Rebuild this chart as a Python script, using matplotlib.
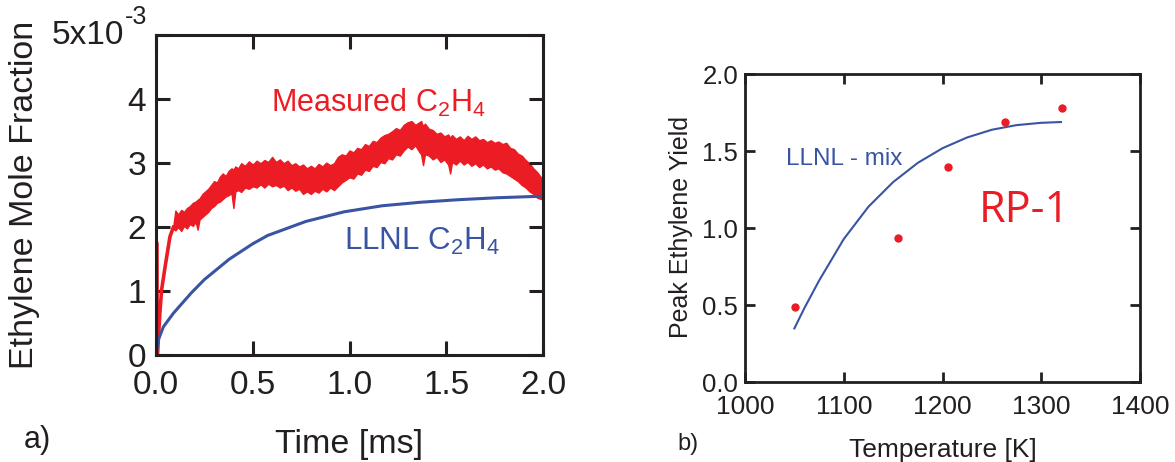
import matplotlib
matplotlib.use('Agg')
import matplotlib.pyplot as plt

# ---------------- Panel a) data (mole fraction, units of 1e-3) ----------------
llnl_t = [0.0, 0.012, 0.038, 0.089, 0.15, 0.182, 0.25, 0.379, 0.5, 0.577, 0.775,
          0.972, 1.17, 1.368, 1.565, 1.763, 2.0]
llnl_x = [0.0, 0.235, 0.44, 0.65, 0.86, 0.97, 1.18, 1.50, 1.74, 1.87, 2.09,
          2.24, 2.335, 2.39, 2.43, 2.46, 2.485]

meas_init_t = [0.0, 0.003, 0.007, 0.012, 0.021, 0.029, 0.047, 0.072, 0.09]
meas_init_x = [0.0, 1.76, 0.0, 0.25, 0.70, 1.02, 1.38, 1.85, 2.0]

meas_t = [0.09, 0.10, 0.115, 0.13, 0.145, 0.16, 0.175, 0.19, 0.205, 0.215,
          0.225, 0.24, 0.255, 0.27, 0.285, 0.30, 0.315, 0.33, 0.345, 0.36,
          0.375, 0.39, 0.40, 0.41, 0.425, 0.44, 0.46, 0.48, 0.50, 0.52,
          0.54, 0.56, 0.58, 0.60, 0.62, 0.64, 0.66, 0.68, 0.70, 0.72,
          0.74, 0.76, 0.78, 0.80, 0.82, 0.84, 0.86, 0.88, 0.90, 0.92,
          0.94, 0.96, 0.98, 1.00, 1.02, 1.04, 1.06, 1.08, 1.10, 1.12,
          1.14, 1.16, 1.18, 1.20, 1.22, 1.24, 1.26, 1.28, 1.30, 1.32,
          1.34, 1.36, 1.37, 1.38, 1.39, 1.41, 1.43, 1.45, 1.47, 1.49,
          1.51, 1.52, 1.53, 1.55, 1.57, 1.59, 1.61, 1.63, 1.65, 1.67,
          1.69, 1.71, 1.73, 1.75, 1.77, 1.79, 1.81, 1.83, 1.85, 1.87,
          1.89, 1.91, 1.93, 1.95, 1.97, 1.99, 2.00]
meas_lo = [1.97, 1.95, 2.00, 1.94, 2.02, 1.98, 2.05, 2.02, 2.08, 1.96,
           2.12, 2.16, 2.20, 2.24, 2.30, 2.33, 2.38, 2.40, 2.44, 2.48,
           2.50, 2.53, 2.30, 2.56, 2.58, 2.55, 2.62, 2.60, 2.64, 2.62,
           2.67, 2.62, 2.68, 2.64, 2.66, 2.62, 2.65, 2.58, 2.62, 2.57,
           2.60, 2.52, 2.56, 2.52, 2.57, 2.54, 2.60, 2.56, 2.62, 2.58,
           2.64, 2.70, 2.74, 2.78, 2.76, 2.84, 2.82, 2.90, 2.88, 2.96,
           2.94, 3.02, 3.00, 3.08, 3.06, 3.14, 3.12, 3.20, 3.26, 3.22,
           3.28, 3.18, 3.14, 2.97, 3.14, 3.12, 3.06, 3.10, 3.02, 3.06,
           2.98, 2.84, 3.02, 2.98, 3.04, 2.98, 3.02, 2.96, 3.00, 2.94,
           2.98, 2.92, 2.95, 2.90, 2.92, 2.86, 2.84, 2.80, 2.76, 2.72,
           2.66, 2.62, 2.56, 2.52, 2.46, 2.44, 2.48]
meas_hi = [2.03, 2.26, 2.20, 2.27, 2.24, 2.30, 2.33, 2.38, 2.40, 2.43,
           2.45, 2.52, 2.56, 2.60, 2.66, 2.72, 2.70, 2.79, 2.84, 2.80,
           2.88, 2.92, 2.90, 2.95, 2.92, 3.00, 2.96, 3.03, 2.98, 3.04,
           3.00, 3.05, 3.02, 3.10, 3.02, 3.06, 3.00, 3.04, 2.97, 3.00,
           2.95, 2.98, 2.92, 2.96, 2.92, 2.99, 2.95, 3.01, 2.97, 3.00,
           3.10, 3.14, 3.12, 3.20, 3.17, 3.24, 3.22, 3.30, 3.27, 3.35,
           3.33, 3.40, 3.44, 3.46, 3.50, 3.55, 3.52, 3.60, 3.64, 3.66,
           3.60, 3.64, 3.66, 3.58, 3.62, 3.54, 3.52, 3.46, 3.48, 3.42,
           3.45, 3.40, 3.44, 3.38, 3.42, 3.36, 3.43, 3.38, 3.42, 3.36,
           3.38, 3.33, 3.36, 3.32, 3.34, 3.30, 3.32, 3.24, 3.22, 3.15,
           3.12, 3.05, 3.00, 2.92, 2.86, 2.78, 2.72]

a_xticks = [0.0, 0.5, 1.0, 1.5, 2.0]
a_xticklabels = ['0.0', '0.5', '1.0', '1.5', '2.0']
a_yticks = [0, 1, 2, 3, 4, 5]
a_yticklabels = ['0', '1', '2', '3', '4', '']

# ---------------- Panel b) data ----------------
temp_pts = [1051, 1155, 1206, 1263, 1321]
yield_pts = [0.49, 0.94, 1.40, 1.69, 1.78]
mix_T = [1050, 1060, 1075, 1100, 1125, 1150, 1175, 1200, 1225, 1250, 1275, 1300, 1320]
mix_y = [0.35, 0.48, 0.66, 0.93, 1.14, 1.30, 1.425, 1.52, 1.59, 1.64, 1.67, 1.685, 1.69]

b_xticks = [1000, 1100, 1200, 1300, 1400]
b_yticks = [0.0, 0.5, 1.0, 1.5, 2.0]
b_yticklabels = ['0.0', '0.5', '1.0', '1.5', '2.0']

RED = '#ec1c24'
BLUE = '#3a54a4'
INK = '#231f20'

plt.rcParams['font.family'] = ['Liberation Sans', 'DejaVu Sans']
plt.rcParams['mathtext.fontset'] = 'custom'
plt.rcParams['mathtext.rm'] = 'Liberation Sans'

W, H = 1175, 462
fig = plt.figure(figsize=(W / 100, H / 100), dpi=100)

# ---------------- Panel a ----------------
axa = fig.add_axes([156 / W, 1 - 355 / H, 387 / W, (355 - 35.4) / H])
axa.fill_between(meas_t, meas_lo, meas_hi, color=RED, linewidth=1.0, edgecolor=RED)
axa.plot(meas_init_t, meas_init_x, color=RED, lw=2.6, solid_joinstyle='round')
axa.plot(llnl_t, llnl_x, color=BLUE, lw=2.2)
axa.set_xlim(0, 2.0)
axa.set_ylim(0, 5)
axa.set_xticks(a_xticks)
axa.set_xticklabels(a_xticklabels)
axa.set_yticks(a_yticks)
axa.set_yticklabels(a_yticklabels)
axa.tick_params(direction='in', length=10, width=2.2, top=True, right=True,
                labelsize=24, colors=INK, pad=7)
axa.tick_params(axis='x', pad=11)
for s in axa.spines.values():
    s.set_linewidth(2.2)
    s.set_color(INK)
axa.annotate('5x10', xy=(0, 5), xycoords=axa.get_yaxis_transform(),
             xytext=(-23, 0), textcoords='offset points', ha='right', va='center',
             fontsize=24, color=INK)
axa.annotate('-3', xy=(0, 5), xycoords=axa.get_yaxis_transform(),
             xytext=(-6.5, 13.5), textcoords='offset points', ha='right', va='center',
             fontsize=18, color=INK)
axa.text(0.593, 3.81, r'Measured C$_\mathregular{2}$H$_\mathregular{4}$', color=RED,
         fontsize=22, ha='left', va='baseline')
axa.text(0.972, 1.64, r'LLNL C$_\mathregular{2}$H$_\mathregular{4}$', color=BLUE,
         fontsize=22.5, ha='left', va='baseline')
fig.text(25 / W, 1 - 195 / H, 'Ethylene Mole Fraction', rotation=90, ha='center',
         va='center', fontsize=24.5, color=INK)
fig.text(349 / W, 1 - 445 / H, 'Time [ms]', ha='center', va='center', fontsize=24.5,
         color=INK)
fig.text(37 / W, 1 - 440 / H, 'a)', ha='center', va='center', fontsize=22, color=INK)

# ---------------- Panel b ----------------
axb = fig.add_axes([745 / W, 1 - 382.3 / H, 395 / W, (382.3 - 74.3) / H])
axb.plot(mix_T, mix_y, color=BLUE, lw=1.5)
axb.plot(temp_pts, yield_pts, 'o', color=RED, ms=6, mec='none')
axb.set_xlim(1000, 1400)
axb.set_ylim(0, 2.0)
axb.set_xticks(b_xticks)
axb.set_yticks(b_yticks)
axb.set_yticklabels(b_yticklabels)
axb.tick_params(direction='in', length=7, width=2, top=True, right=True,
                labelsize=19, colors=INK, pad=5)
axb.tick_params(axis='y', labelsize=18.5)
axb.tick_params(axis='x', pad=9)
for s in axb.spines.values():
    s.set_linewidth(2)
    s.set_color(INK)
axb.text(1042, 1.447, 'LLNL - mix', color=BLUE, fontsize=17.5, ha='left', va='center')
axb.text(1237, 1.043, 'RP-1', color=RED, fontsize=31, ha='left', va='baseline',
         family=['Open Sans', 'DejaVu Sans'])
fig.text(681 / W, 1 - 227 / H, 'Peak Ethylene Yield', rotation=90, ha='center',
         va='center', fontsize=18, color=INK)
fig.text(943 / W, 1 - 450 / H, 'Temperature [K]', ha='center', va='center',
         fontsize=19, color=INK)
fig.text(688 / W, 1 - 444 / H, 'b)', ha='center', va='center', fontsize=17, color=INK)

fig.savefig('out.png', dpi=100)
